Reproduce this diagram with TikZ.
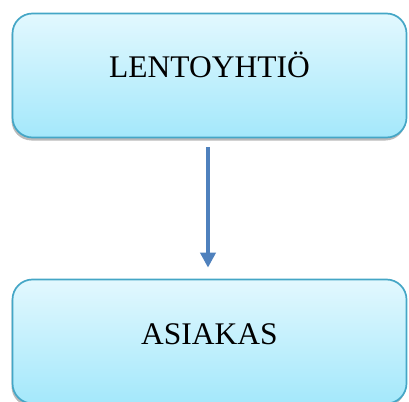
\documentclass[tikz,border=0pt]{standalone}
\usepackage{fontspec}
\setmainfont{Liberation Serif}
\usetikzlibrary{shadows,arrows.meta}
\definecolor{boxtop}{HTML}{E2F8FE}
\definecolor{boxbottom}{HTML}{A4E8FB}
\definecolor{boxline}{HTML}{44A6C6}
\definecolor{arrowblue}{HTML}{4F81BD}
\tikzset{
  entity/.style={draw=boxline, line width=1.7pt, rounded corners=20pt,
    top color=boxtop, bottom color=boxbottom,
    minimum width=394pt, minimum height=124pt, inner sep=0pt,
    font=\fontsize{31.5}{36}\selectfont,
    drop shadow={shadow xshift=-1pt, shadow yshift=-3pt, opacity=0.45, fill=black!60}},
  flow/.style={draw=arrowblue, line width=4pt,
    -{Triangle[width=15pt,length=15pt]}}
}
\begin{document}
\begin{tikzpicture}[x=1pt,y=1pt]
\useasboundingbox (0,0) rectangle (409,-401);
\node[entity] (airline) at (209.5,-75.5) {\raisebox{22pt}{LENTOYHTIÖ}};
\node[entity] (customer) at (209.5,-341.5) {\raisebox{14pt}{ASIAKAS}};
\draw[flow, shorten <=9pt, shorten >=11pt]
  ([xshift=-1.5pt]airline.south) -- ([xshift=-1.5pt]customer.north);
\end{tikzpicture}
\end{document}
